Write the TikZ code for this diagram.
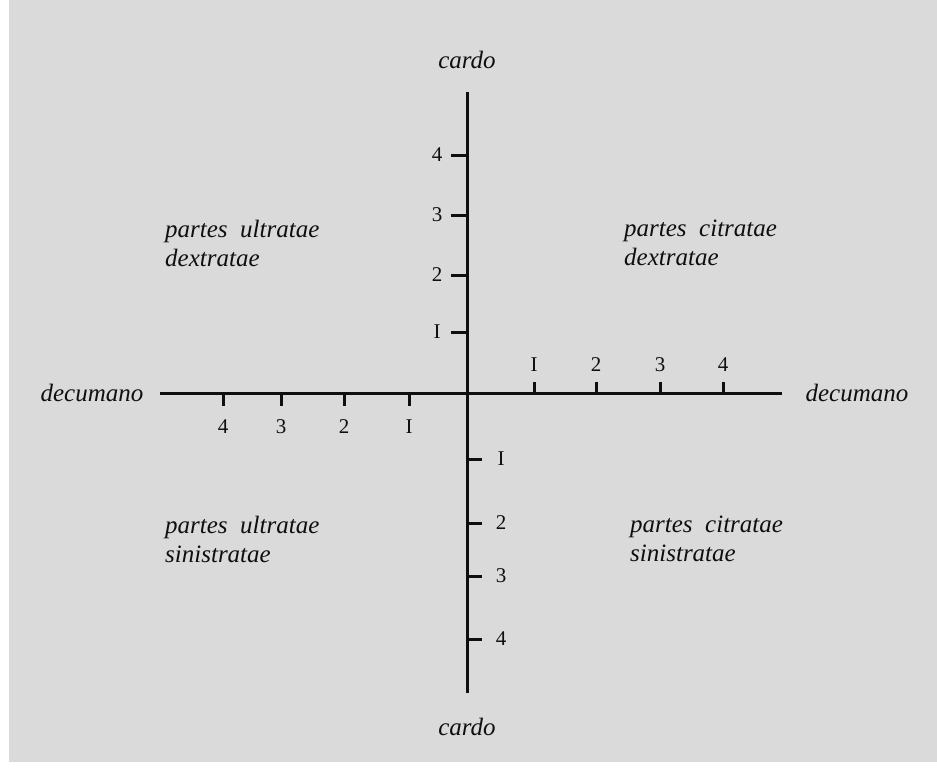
\documentclass[tikz,border=0pt]{standalone}
\usepackage{fontspec}
\setmainfont{Liberation Serif}
\definecolor{paper}{RGB}{218,218,218}
\definecolor{ink}{RGB}{15,15,15}
\begin{document}
\begin{tikzpicture}[x=1pt,y=-1pt,
  axis/.style={line width=3pt,draw=ink},
  tick/.style={line width=3pt,draw=ink},
  lbl/.style={font=\fontsize{25}{30}\selectfont\itshape,text=ink,inner sep=0pt},
  quad/.style={font=\fontsize{25}{29}\selectfont\itshape,text=ink,inner sep=0pt,anchor=north west,align=left},
  num/.style={font=\fontsize{21}{23}\selectfont,text=ink,inner sep=0pt}]
\useasboundingbox (0,0) rectangle (937,769);
\fill[white] (0,0) rectangle (937,769);
\fill[paper] (9,0) rectangle (937,762);
% axes
\coordinate (top) at (467,92);
\coordinate (bot) at (467,693);
\coordinate (lft) at (160,393);
\coordinate (rgt) at (782,393);
\draw[axis] (top) -- (bot);
\draw[axis] (lft) -- (rgt);
% axis labels
\node[lbl] (cardoT) at (467,60) {cardo};
\node[lbl] (cardoB) at (467,727) {cardo};
\node[lbl] (decL) at (92,393) {decumano};
\node[lbl] (decR) at (857,393) {decumano};
% upper ticks (left side of vertical axis)
\foreach \y/\t in {155/4,215/3,275/2,332/I}{
  \draw[tick] (451,\y) -- (467,\y);
  \node[num] (u\t) at (437,\y) {\t};
}
% lower ticks (right side)
\foreach \y/\t in {459/I,523/2,576/3,639/4}{
  \draw[tick] (467,\y) -- (482,\y);
  \node[num] (d\t) at (501,\y) {\t};
}
% right ticks (upwards)
\foreach \x/\t in {534/I,596/2,660/3,723/4}{
  \draw[tick] (\x,382) -- (\x,393);
  \node[num] (r\t) at (\x,365) {\t};
}
% left ticks (downwards)
\foreach \x/\t in {223/4,281/3,344/2,409/I}{
  \draw[tick] (\x,393) -- (\x,406);
  \node[num] (l\t) at (\x,427) {\t};
}
% quadrant labels
\node[quad] (q1) at (165,220) {partes\ \ ultratae\\dextratae};
\node[quad] (q2) at (624,220) {partes\ \ citratae\\dextratae};
\node[quad] (q3) at (165,516) {partes\ \ ultratae\\sinistratae};
\node[quad] (q4) at (630,516) {partes\ \ citratae\\sinistratae};
\end{tikzpicture}
\end{document}
